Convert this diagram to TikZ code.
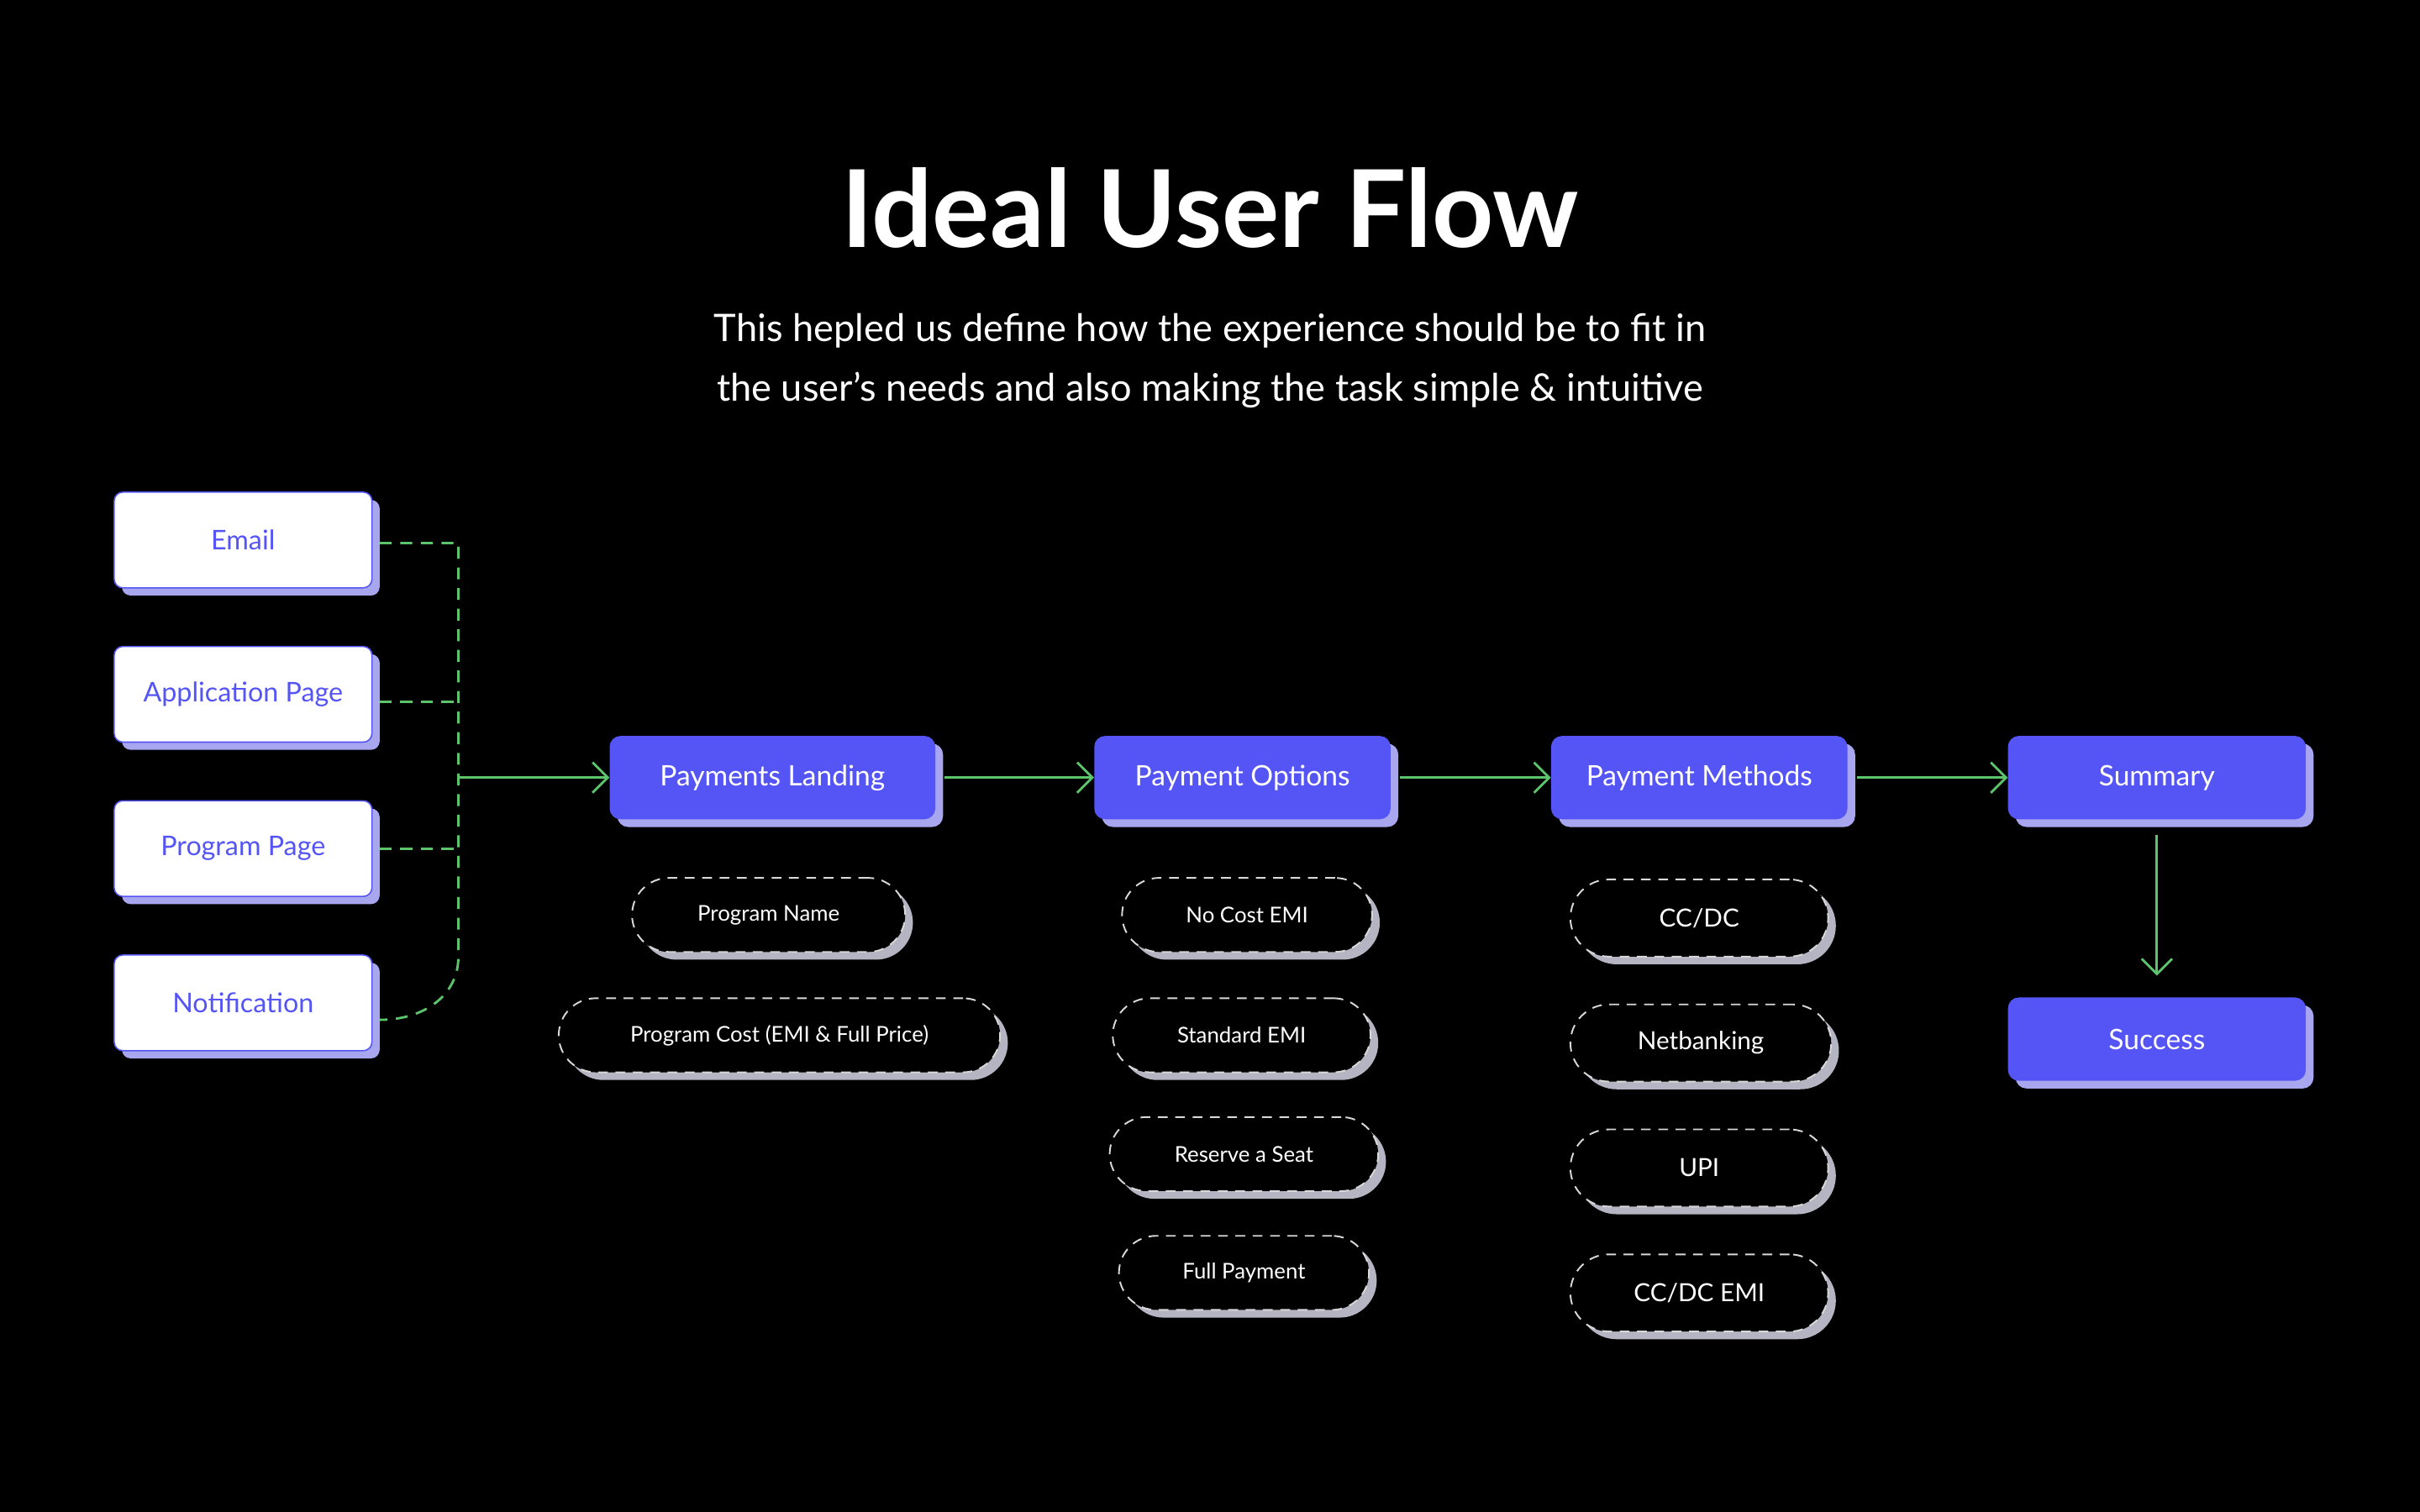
\documentclass[tikz,border=0pt]{standalone}
\usepackage{fontspec}
\setmainfont{Lato}
\usetikzlibrary{arrows.meta}
\definecolor{bg}{HTML}{000000}
\definecolor{blu}{HTML}{5555F5}
\definecolor{shd}{HTML}{A9A6F0}
\definecolor{grn}{HTML}{5CC46A}
\definecolor{pgray}{HTML}{B4B4C2}
\definecolor{dgray}{HTML}{D8D8D8}
\tikzset{
 x=0.05cm,y=-0.05cm,
 src/.style={draw=blu,line width=1.2pt,fill=white,rounded corners=8pt,minimum width=167*0.05cm,minimum height=62*0.05cm,text=blu,font=\fontsize{25}{30}\selectfont,
   preaction={fill=shd,transform canvas={shift={(5*0.05cm,-5*0.05cm)}}}},
 main/.style={fill=blu,rounded corners=10pt,minimum width=#1*0.05cm,minimum height=54*0.05cm,text=white,font=\fontsize{26}{30}\selectfont,
   preaction={fill=shd,transform canvas={shift={(5*0.05cm,-5*0.05cm)}}}},
 pill/.style={draw=dgray,dash pattern=on 9pt off 7pt,line width=1.5pt,fill=bg,rounded corners=24*0.05cm,minimum width=#1*0.05cm,minimum height=48*0.05cm,text=white,font=\fontsize{20}{24}\selectfont,
   preaction={fill=pgray,transform canvas={shift={(5*0.05cm,-5*0.05cm)}}}},
 bpill/.style={pill=#1,minimum height=50*0.05cm,rounded corners=25*0.05cm,font=\fontsize{23}{26}\selectfont},
 flow/.style={grn,line width=2.2pt,-{Straight Barb[length=14pt,width=28pt,line width=2.2pt]}},
 dflow/.style={grn,line width=2.2pt,dash pattern=on 11pt off 8pt},
}
\begin{document}
\begin{tikzpicture}
\fill[bg] (0,0) rectangle (1568,980);
\useasboundingbox (0,0) rectangle (1568,980);
\node[text=white,font=\fontsize{99}{110}\bfseries\selectfont] (title) at (784,135) {Ideal User Flow};
\node[text=white,font=\fontsize{35}{55}\selectfont,align=center] (sub) at (784,234) {This hepled us define how the experience should be to fit in\\the user’s needs and also making the task simple \& intuitive};
% sources
\node[src] (email) at (157.5,350) {Email};
\node[src] (app) at (157.5,450) {Application Page};
\node[src] (prog) at (157.5,550) {Program Page};
\node[src] (notif) at (157.5,650) {Notification};
\coordinate (j) at (297,504);
\coordinate (e1) at (246,352);
\coordinate (a1) at (246,455);
\coordinate (g1) at (246,550);
\coordinate (n1) at (246,661);
\node[main=211] (pl) at (500.5,504) {Payments Landing};
\node[main=192] (po) at (805,504) {Payment Options};
\node[main=192] (pm) at (1101,504) {Payment Methods};
\node[main=193] (sum) at (1397.5,504) {Summary};
\node[main=193] (suc) at (1397.5,673.5) {Success};
% dashed joins
\draw[dflow] (e1) -- (297,352) -- (297,620) .. controls (297,645) and (275,661) .. (n1);
\draw[dflow] (a1) -- (297,455);
\draw[dflow] (g1) -- (297,550);
\draw[flow] (j) -- (pl.west);
\draw[flow] ([xshift=6*0.05cm]pl.east) -- (po.west);
\draw[flow] ([xshift=6*0.05cm]po.east) -- (pm.west);
\draw[flow] ([xshift=6*0.05cm]pm.east) -- (sum.west);
\draw[flow] ([yshift=-10*0.05cm]sum.south) -- ([yshift=14*0.05cm]suc.north);
% pills
\node[pill=177] (p1) at (498,593) {Program Name};
\node[pill=286] (p2) at (505,671) {Program Cost (EMI \& Full Price)};
\node[pill=162] (o1) at (808,593) {No Cost EMI};
\node[pill=167] (o2) at (804.5,671) {Standard EMI};
\node[pill=174] (o3) at (806,748) {Reserve a Seat};
\node[pill=162] (o4) at (806,825) {Full Payment};
\node[bpill=167] (m1) at (1101,595) {CC/DC};
\node[bpill=169] (m2) at (1102,676) {Netbanking};
\node[bpill=167] (m3) at (1101,757) {UPI};
\node[bpill=167] (m4) at (1101,838) {CC/DC EMI};
\end{tikzpicture}
\end{document}
